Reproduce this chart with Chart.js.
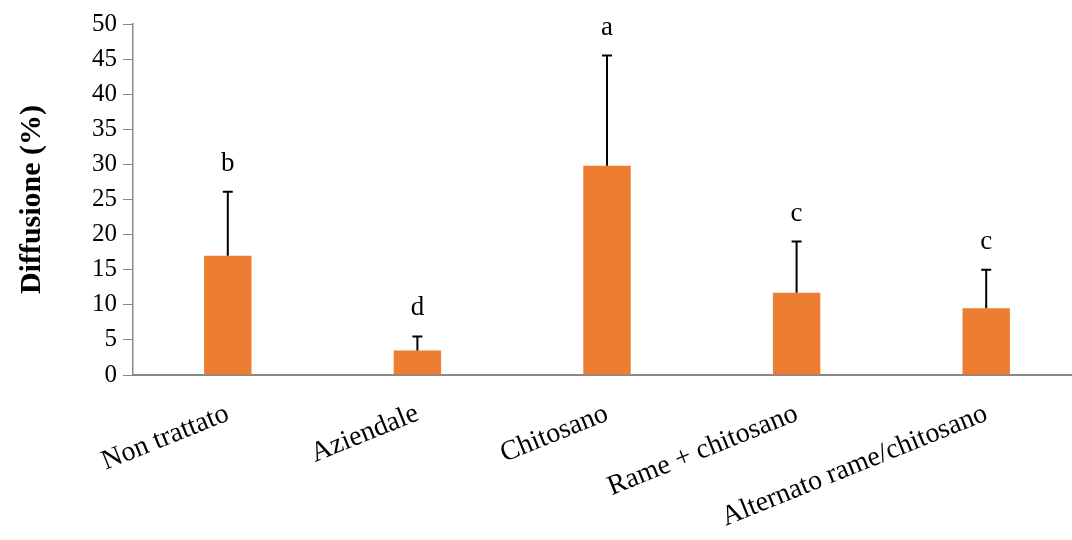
<!DOCTYPE html>
<html>
<head>
<meta charset="utf-8">
<script src="https://cdn.jsdelivr.net/npm/chart.js@4"></script>
<style>
  html, body { margin: 0; padding: 0; background: #fff; overflow: hidden; }
</style>
</head>
<body>
<canvas id="diffChart" width="1082" height="540"></canvas>
<script>
const categories = ['Non trattato', 'Aziendale', 'Chitosano', 'Rame + chitosano', 'Alternato rame/chitosano'];
const diffusione = [17, 3.5, 29.8, 11.7, 9.5];
const errori = [9.1, 2, 15.7, 7.3, 5.5];
const lettere = ['b', 'd', 'a', 'c', 'c'];

const serif = "'Liberation Serif', 'Times New Roman', serif";

// error bars (upper half only) + significance letters
const errorBars = {
  id: 'errorBars',
  afterDatasetsDraw(chart) {
    const ctx = chart.ctx;
    const meta = chart.getDatasetMeta(0);
    const yScale = chart.scales.y;
    ctx.save();
    ctx.strokeStyle = '#000';
    ctx.lineWidth = 2;
    meta.data.forEach((bar, i) => {
      const top = yScale.getPixelForValue(diffusione[i] + errori[i]);
      ctx.beginPath();
      ctx.moveTo(bar.x, bar.y);
      ctx.lineTo(bar.x, top);
      ctx.moveTo(bar.x - 5, top);
      ctx.lineTo(bar.x + 5, top);
      ctx.stroke();

      ctx.fillStyle = '#000';
      ctx.font = '27px ' + serif;
      ctx.textAlign = 'center';
      ctx.textBaseline = 'alphabetic';
      ctx.fillText(lettere[i], bar.x, top - 21);
    });
    ctx.restore();
  }
};

const chartDiff = new Chart(document.getElementById('diffChart'), {
  type: 'bar',
  data: {
    labels: categories,
    datasets: [{
      label: 'Diffusione (%)',
      data: diffusione,
      backgroundColor: '#ED7D31',
      barPercentage: 0.25,
      categoryPercentage: 1.0
    }]
  },
  options: {
    responsive: false,
    animation: false,
    layout: {
      padding: { top: 24, left: 0, right: 1, bottom: 0 }
    },
    scales: {
      y: {
        min: 0,
        max: 50,
        ticks: {
          stepSize: 5,
          padding: 6,
          color: '#000',
          font: { family: serif, size: 25 }
        },
        grid: {
          drawOnChartArea: false,
          drawTicks: true,
          tickLength: 10,
          color: '#898989'
        },
        border: { color: '#898989', width: 1.5 },
        title: {
          display: true,
          text: 'Diffusione (%)',
          color: '#000',
          padding: { top: 14, bottom: 0 },
          font: { family: serif, size: 30, weight: 'bold' }
        },
        afterFit: function(scale) {
          scale.width = 133;
        }
      },
      x: {
        ticks: {
          minRotation: 22,
          maxRotation: 22,
          padding: 14,
          color: '#000',
          font: { family: serif, size: 28 }
        },
        grid: { display: false },
        border: { color: '#898989', width: 2 },
        afterFit: function(scale) {
          scale.height = 165;
        }
      }
    },
    plugins: {
      legend: { display: false },
      tooltip: { enabled: false }
    }
  },
  plugins: [errorBars]
});
</script>
</body>
</html>
